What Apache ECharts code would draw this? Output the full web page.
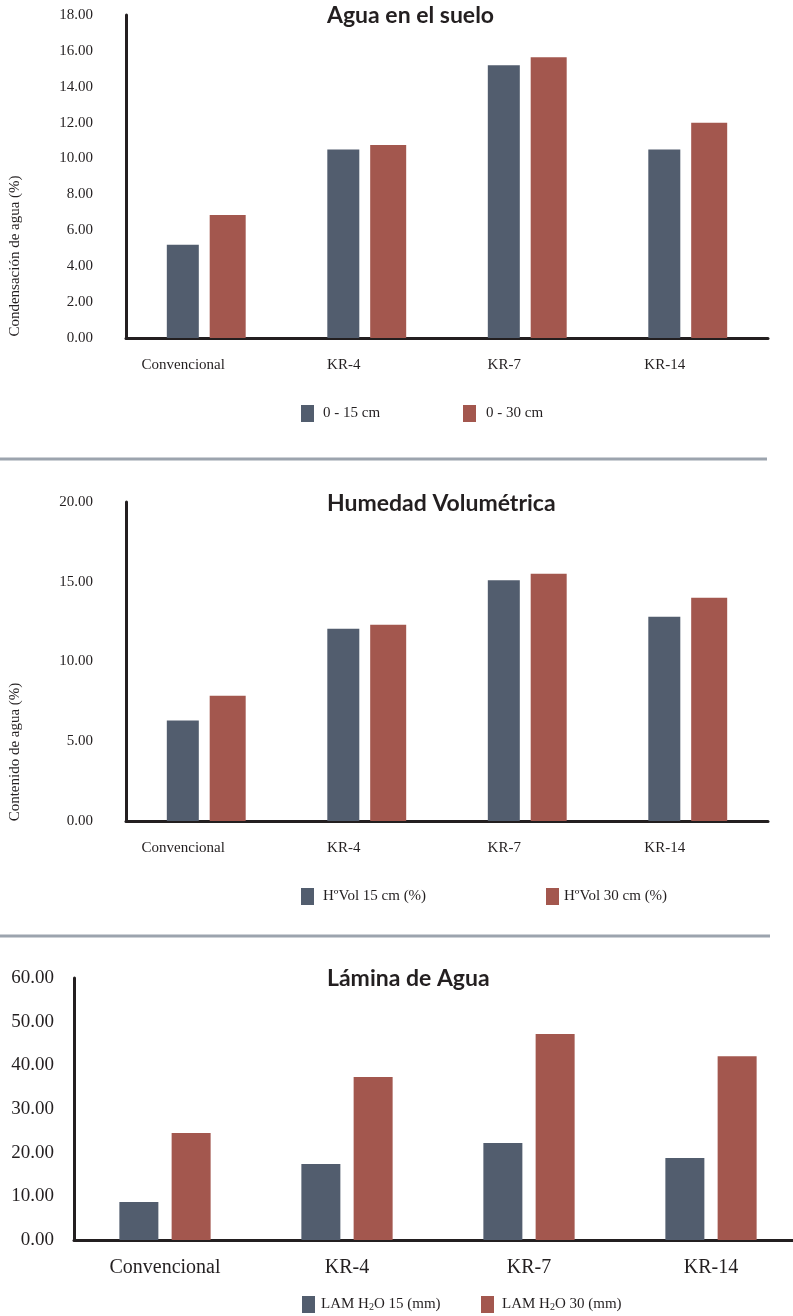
<!DOCTYPE html>
<html>
<head>
<meta charset="utf-8">
<script src="https://cdn.jsdelivr.net/npm/echarts@6/dist/echarts.min.js"></script>
<style>
  html, body { margin: 0; padding: 0; background: #ffffff; overflow: hidden; }
  #chart { width: 793px; height: 1316px; }
</style>
</head>
<body>
<div id="chart"></div>
<script>
// Treatments shared by the three panels
const categories = ['Convencional', 'KR-4', 'KR-7', 'KR-14'];

// Agua en el suelo: condensación de agua (%)
const suelo15 = [5.2, 10.5, 15.2, 10.5];
const suelo30 = [6.85, 10.75, 15.65, 12.0];

// Humedad volumétrica: contenido de agua (%)
const hvol15 = [6.3, 12.05, 15.1, 12.8];
const hvol30 = [7.85, 12.3, 15.5, 14.0];

// Lámina de agua (mm)
const lam15 = [8.7, 17.4, 22.2, 18.8];
const lam30 = [24.5, 37.3, 47.2, 42.1];

const titles = ['Agua en el suelo', 'Humedad Volumétrica', 'Lámina de Agua'];
const yNames = ['Condensación de agua (%)', 'Contenido de agua (%)'];
const names1 = ['0 - 15 cm', '0 - 30 cm'];
const names2 = ['H\u00baVol 15 cm (%)', 'H\u00baVol 30 cm (%)'];
const names3 = ['LAM H2O 15 (mm)', 'LAM H2O 30 (mm)'];

const BLUE = '#525d6e';
const RED = '#a3574e';
const INK = '#231f20';
const SERIF = '"Liberation Serif", "DejaVu Serif", serif';
const SANS = 'Lato, "Open Sans", sans-serif';

const chart = echarts.init(document.getElementById('chart'), null, { renderer: 'canvas' });

function valueAxis(gridIndex, max, interval, fontSize, margin, lineWidth) {
  return {
    type: 'value', gridIndex, min: 0, max, interval,
    axisLine: { show: true, lineStyle: { color: INK, width: lineWidth } },
    axisTick: { show: false },
    splitLine: { show: false },
    axisLabel: {
      margin, fontFamily: SERIF, fontSize, color: INK,
      formatter: v => v.toFixed(2)
    }
  };
}

function categoryAxis(gridIndex, fontSize, margin, padRight) {
  return {
    type: 'category', gridIndex, data: categories,
    axisLine: { show: true, lineStyle: { color: INK, width: 3 } },
    axisTick: { show: false },
    axisLabel: {
      margin, fontFamily: SERIF, fontSize, color: INK,
      padding: [0, padRight, 0, 0]
    }
  };
}

function legendAt(name, left, top, gap) {
  return {
    data: [name], left, top, padding: 0,
    icon: 'rect', itemWidth: 13, itemHeight: 17,
    selectedMode: false,
    formatter: n => n.replace('H2O', 'H{sub|2}O'),
    textStyle: {
      fontFamily: SERIF, fontSize: 15, color: INK, padding: [0, 0, 0, gap],
      rich: { sub: { fontFamily: SERIF, fontSize: 10, color: INK, verticalAlign: 'bottom', lineHeight: 10 } }
    }
  };
}

function bars(name, data, idx, color, width, gap) {
  return {
    type: 'bar', name, data, xAxisIndex: idx, yAxisIndex: idx,
    barWidth: width, barGap: gap,
    itemStyle: { color },
    emphasis: { disabled: true }
  };
}

const titleStyle = { fontFamily: SANS, fontWeight: 'bold', fontSize: 23, color: INK };

chart.setOption({
  animation: false,
  backgroundColor: '#ffffff',
  title: [
    { text: titles[0], left: 327, top: 4, padding: 0, textStyle: titleStyle },
    { text: titles[1], left: 327, top: 492, padding: 0, textStyle: titleStyle },
    { text: titles[2], left: 327, top: 967, padding: 0, textStyle: titleStyle }
  ],
  grid: [
    { left: 126, right: 25, top: 15, height: 323, outerBoundsMode: 'none' },
    { left: 126, right: 25, top: 502, height: 319, outerBoundsMode: 'none' },
    { left: 74, width: 728, top: 978, height: 262, outerBoundsMode: 'none' }
  ],
  xAxis: [
    categoryAxis(0, 15, 20, 46),
    categoryAxis(1, 15, 20, 46),
    categoryAxis(2, 20, 18, 0)
  ],
  yAxis: [
    valueAxis(0, 18, 2, 15, 33, 3),
    valueAxis(1, 20, 5, 15, 33, 3),
    valueAxis(2, 60, 10, 19, 20, 3)
  ],
  legend: [
    legendAt(names1[0], 301, 405, 4),
    legendAt(names1[1], 463, 405, 5),
    legendAt(names2[0], 301, 888, 4),
    legendAt(names2[1], 546, 888, 0),
    legendAt(names3[0], 302, 1296, 1),
    legendAt(names3[1], 481, 1296, 3)
  ],
  graphic: [
    { type: 'text', x: 15, y: 256, rotation: Math.PI / 2,
      style: { text: yNames[0], font: '15px ' + SERIF, fill: INK, align: 'center', verticalAlign: 'middle' } },
    { type: 'text', x: 15, y: 752, rotation: Math.PI / 2,
      style: { text: yNames[1], font: '15px ' + SERIF, fill: INK, align: 'center', verticalAlign: 'middle' } },
    { type: 'line', shape: { x1: 0, y1: 459, x2: 767, y2: 459 },
      style: { stroke: '#9ca4ae', lineWidth: 3 } },
    { type: 'line', shape: { x1: 0, y1: 936, x2: 770, y2: 936 },
      style: { stroke: '#9ca4ae', lineWidth: 3 } }
  ],
  series: [
    bars(names1[0], suelo15, 0, BLUE, 32, '34%'),
    bars(names1[1], suelo30, 0, RED, 36, '34%'),
    bars(names2[0], hvol15, 1, BLUE, 32, '34%'),
    bars(names2[1], hvol30, 1, RED, 36, '34%'),
    bars(names3[0], lam15, 2, BLUE, 39, '34%'),
    bars(names3[1], lam30, 2, RED, 39, '34%')
  ]
});
</script>
</body>
</html>
